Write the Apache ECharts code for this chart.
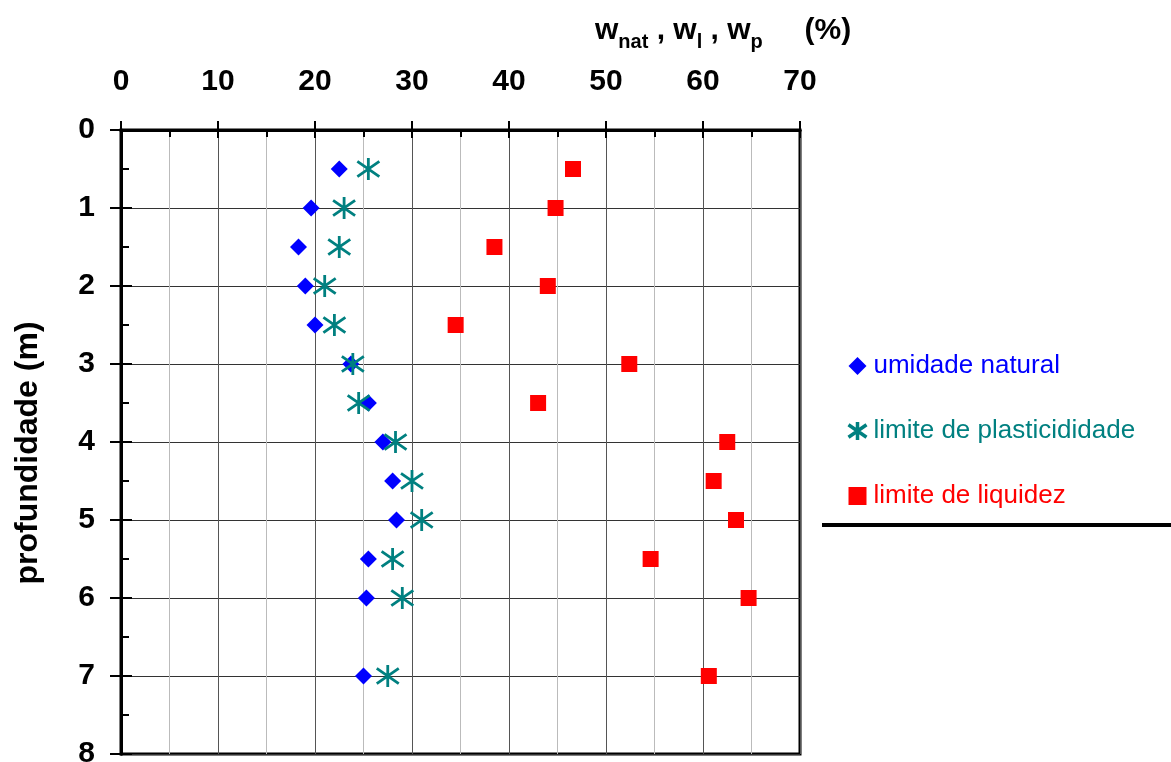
<!DOCTYPE html>
<html>
<head>
<meta charset="utf-8">
<script src="https://cdn.jsdelivr.net/npm/echarts@6/dist/echarts.min.js"></script>
<style>
  html, body { margin: 0; padding: 0; background: #fff; }
  #main { width: 1171px; height: 762px; }
</style>
</head>
<body>
<div id="main"></div>
<script>
// depth (m) and the three water contents (%)
const depth = [0.5, 1, 1.5, 2, 2.5, 3, 3.5, 4, 4.5, 5, 5.5, 6, 7];
const wNat = [22.5, 19.6, 18.3, 19.0, 20.0, 23.7, 25.5, 27.0, 28.0, 28.4, 25.5, 25.3, 25.0];
const wP = [25.5, 23.0, 22.5, 21.0, 22.0, 23.9, 24.5, 28.3, 30.0, 31.0, 28.0, 29.0, 27.5];
const wL = [46.6, 44.8, 38.5, 44.0, 34.5, 52.4, 43.0, 62.5, 61.1, 63.4, 54.6, 64.7, 60.6];
const seriesNames = ['umidade natural', 'limite de plasticididade', 'limite de liquidez'];

const FONT = "'Liberation Sans', Arial, sans-serif";
const pts = (vals) => vals.map((v, i) => [v, depth[i]]);
const asterisk = 'path://M10,0L10,20M0,3L20,17M0,17L20,3';

const chart = echarts.init(document.getElementById('main'));
chart.setOption({
  animation: false,
  grid: {
    left: 121, top: 130, right: 371, bottom: 8,
    outerBoundsMode: 'none', containLabel: false,
    show: true, borderColor: '#000', borderWidth: 3
  },
  xAxis: [
    {
      type: 'value', position: 'top', min: 0, max: 70, interval: 10,
      axisLine: { lineStyle: { color: '#000', width: 3 } },
      axisTick: { inside: false, length: 9, lineStyle: { color: '#000', width: 2 } },
      axisLabel: { color: '#000', fontSize: 30, fontWeight: 'bold', fontFamily: FONT, margin: 33 },
      splitLine: { lineStyle: { color: '#555', width: 1 } },
      minorTick: { show: false, splitNumber: 2 },
      minorSplitLine: { show: true, lineStyle: { color: '#bbb', width: 1 } }
    },
    {
      type: 'value', position: 'bottom', min: 0, max: 70, interval: 10,
      axisLine: { show: true, onZero: true, lineStyle: { color: '#000', width: 3 } },
      axisTick: { inside: false, length: 8, lineStyle: { color: '#000', width: 2 } },
      minorTick: { show: true, splitNumber: 2, length: 7, lineStyle: { color: '#000', width: 2 } },
      axisLabel: { show: false },
      splitLine: { show: false }
    }
  ],
  yAxis: [
    {
      type: 'value', position: 'left', inverse: true, min: 0, max: 8, interval: 1,
      name: 'profundidade (m)', nameLocation: 'middle', nameGap: 77,
      nameTextStyle: { color: '#000', fontSize: 32, fontWeight: 'bold', fontFamily: FONT, padding: [0, 22, 0, 0] },
      axisLine: { lineStyle: { color: '#000', width: 3 } },
      axisTick: { inside: false, length: 11, lineStyle: { color: '#000', width: 2 } },
      axisLabel: { color: '#000', fontSize: 30, fontWeight: 'bold', fontFamily: FONT, margin: 26 },
      splitLine: { lineStyle: { color: '#333', width: 1 } }
    },
    {
      type: 'value', position: 'right', inverse: true, min: 0, max: 8, interval: 1,
      axisLine: { show: true, onZero: true, lineStyle: { color: '#000', width: 3 } },
      axisTick: { inside: false, length: 11, lineStyle: { color: '#000', width: 2 } },
      minorTick: { show: true, splitNumber: 2, length: 8, lineStyle: { color: '#000', width: 2 } },
      axisLabel: { show: false },
      splitLine: { show: false }
    }
  ],
  legend: {
    orient: 'vertical', left: 841, top: 348, itemWidth: 18, itemHeight: 18, itemGap: 39,
    textStyle: { fontSize: 26, fontFamily: FONT, padding: [0, 0, 0, 2] },
    data: [
      { name: seriesNames[0], textStyle: { color: '#0000ff' } },
      { name: seriesNames[1], textStyle: { color: '#008080' }, itemStyle: { borderWidth: 3.5 } },
      { name: seriesNames[2], textStyle: { color: '#ff0000' } }
    ]
  },
  graphic: [
    {
      type: 'text', left: 595, top: 16,
      style: {
        text: '{b|w}{s|nat}{b| , w}{s|l}{b| , w}{s|p}{b|     (%)}',
        rich: {
          b: { fontSize: 30, fontWeight: 'bold', fontFamily: FONT, fill: '#000', lineHeight: 36, verticalAlign: 'top' },
          s: { fontSize: 20, fontWeight: 'bold', fontFamily: FONT, fill: '#000', lineHeight: 20, verticalAlign: 'bottom' }
        }
      }
    },
    {
      type: 'rect', left: 822, top: 523,
      shape: { width: 349, height: 4 },
      style: { fill: '#000' }
    }
  ],
  series: [
    {
      name: seriesNames[0], type: 'scatter', data: pts(wNat),
      symbol: 'diamond', symbolSize: 17,
      itemStyle: { color: '#0000ff', opacity: 1 }
    },
    {
      name: seriesNames[1], type: 'scatter', data: pts(wP),
      symbol: asterisk, symbolSize: [22, 22],
      itemStyle: { color: 'none', borderColor: '#008080', borderWidth: 2.8, opacity: 1 }
    },
    {
      name: seriesNames[2], type: 'scatter', data: pts(wL),
      symbol: 'rect', symbolSize: 16,
      itemStyle: { color: '#ff0000', opacity: 1 }
    }
  ]
});
</script>
</body>
</html>
